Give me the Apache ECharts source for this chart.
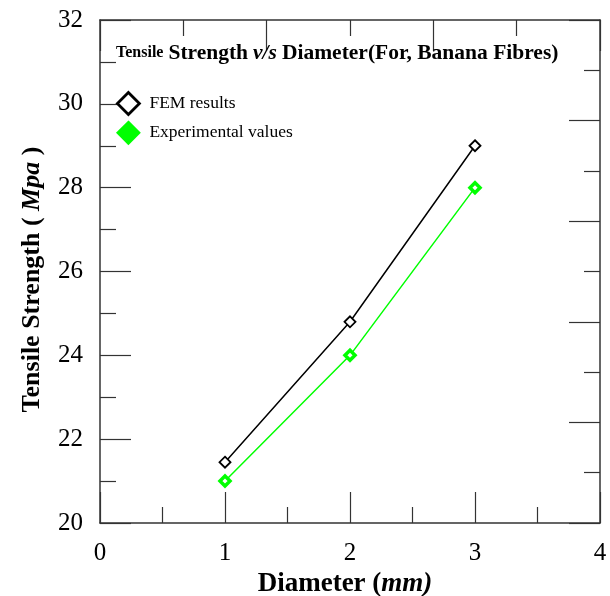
<!DOCTYPE html>
<html>
<head>
<meta charset="utf-8">
<script src="https://cdn.jsdelivr.net/npm/echarts@6/dist/echarts.min.js"></script>
<style>html,body{margin:0;padding:0;background:#fff}#c{width:610px;height:596px}</style>
</head>
<body>
<div id="c"></div>
<script>
var diameters = [1, 2, 3];
var femResults = [21.45, 24.8, 29.0];
var experimentalValues = [21.0, 24.0, 28.0];
var seriesNames = ['FEM results', 'Experimental values'];
var xTicks = [0, 1, 2, 3, 4];
var yTicks = [20, 22, 24, 26, 28, 30, 32];

var serif = '"Liberation Serif", "DejaVu Serif", serif';
var axisColor = '#333';

function pairs(xs, ys) { return xs.map(function (x, i) { return [x, ys[i]]; }); }

var chart = echarts.init(document.getElementById('c'));
chart.setOption({
  backgroundColor: '#fff',
  animation: false,
  title: {
    text: '{a|Tensile} {b|Strength} {c|v/s} {b|Diameter(For, Banana Fibres)}',
    left: 116, top: 42, padding: 0,
    textStyle: {
      rich: {
        a: { fontFamily: serif, fontWeight: 'bold', fontSize: 16, color: '#000' },
        b: { fontFamily: serif, fontWeight: 'bold', fontSize: 21.5, color: '#000' },
        c: { fontFamily: serif, fontWeight: 'bold', fontStyle: 'italic', fontSize: 21.5, color: '#000' }
      }
    }
  },
  legend: {
    orient: 'vertical', left: 116, top: 91, padding: 0,
    itemWidth: 22, itemHeight: 22, itemGap: 5,
    textStyle: { fontFamily: serif, fontSize: 17.5, color: '#000', padding: [0, 0, 0, 5] },
    data: [
      { name: seriesNames[0], icon: 'diamond', itemStyle: { color: '#fff', borderColor: '#000', borderWidth: 2.8 } },
      { name: seriesNames[1], icon: 'diamond', itemStyle: { color: '#00ff00', borderColor: '#00ff00', borderWidth: 2 } }
    ]
  },
  grid: { left: 100, right: 10, top: 20, bottom: 73, containLabel: false, outerBoundsMode: 'none' },
  xAxis: [{
    type: 'value', position: 'bottom', min: xTicks[0], max: xTicks[xTicks.length - 1], interval: 1,
    name: '{b|Diameter (}{i|mm)}', nameLocation: 'middle', nameGap: 44,
    nameTextStyle: { padding: [0, 10, 0, 0], rich: {
      b: { fontFamily: serif, fontWeight: 'bold', fontSize: 27, color: '#000' },
      i: { fontFamily: serif, fontWeight: 'bold', fontStyle: 'italic', fontSize: 27, color: '#000' } } },
    axisLine: { show: true, onZero: false, lineStyle: { color: axisColor, width: 1.5 } },
    axisTick: { show: true, inside: true, length: 31, lineStyle: { color: axisColor, width: 1.2 } },
    minorTick: { show: true, splitNumber: 2, length: 16, lineStyle: { color: axisColor, width: 1.2 } },
    axisLabel: { fontFamily: serif, fontSize: 25, color: '#000', margin: 18 },
    splitLine: { show: false }
  }, {
    type: 'value', position: 'top', min: 0, max: 6, interval: 2,
    axisLine: { show: true, onZero: false, lineStyle: { color: axisColor, width: 1.5 } },
    axisTick: { show: true, inside: true, length: 31, lineStyle: { color: axisColor, width: 1.2 } },
    minorTick: { show: true, splitNumber: 2, length: 16, lineStyle: { color: axisColor, width: 1.2 } },
    axisLabel: { show: false },
    splitLine: { show: false }
  }],
  yAxis: [{
    type: 'value', position: 'left', min: yTicks[0], max: yTicks[yTicks.length - 1], interval: 2,
    name: '{b|Tensile Strength ( }{i|Mpa}{b| )}', nameLocation: 'middle', nameGap: 55, nameRotate: 90,
    nameTextStyle: { padding: [0, 16, 0, 0], rich: {
      b: { fontFamily: serif, fontWeight: 'bold', fontSize: 26, color: '#000' },
      i: { fontFamily: serif, fontWeight: 'bold', fontStyle: 'italic', fontSize: 26, color: '#000' } } },
    axisLine: { show: true, onZero: false, lineStyle: { color: axisColor, width: 1.5 } },
    axisTick: { show: true, inside: true, length: 31, lineStyle: { color: axisColor, width: 1.2 } },
    minorTick: { show: true, splitNumber: 2, length: 16, lineStyle: { color: axisColor, width: 1.2 } },
    axisLabel: { fontFamily: serif, fontSize: 25, color: '#000', margin: 17, padding: [3, 0, 0, 0] },
    splitLine: { show: false }
  }, {
    type: 'value', position: 'right', min: 0, max: 10, interval: 2,
    axisLine: { show: true, onZero: false, lineStyle: { color: axisColor, width: 1.5 } },
    axisTick: { show: true, inside: true, length: 31, lineStyle: { color: axisColor, width: 1.2 } },
    minorTick: { show: true, splitNumber: 2, length: 16, lineStyle: { color: axisColor, width: 1.2 } },
    axisLabel: { show: false },
    splitLine: { show: false }
  }],
  series: [{
    name: seriesNames[0], type: 'line', xAxisIndex: 0, yAxisIndex: 0,
    data: pairs(diameters, femResults),
    symbol: 'diamond', symbolSize: 11,
    lineStyle: { color: '#000', width: 1.5 },
    itemStyle: { color: '#fff', borderColor: '#000', borderWidth: 1.8 },
    z: 3
  }, {
    name: seriesNames[1], type: 'line', xAxisIndex: 0, yAxisIndex: 0,
    data: pairs(diameters, experimentalValues),
    symbol: 'diamond', symbolSize: 10,
    lineStyle: { color: '#00ff00', width: 1.5 },
    itemStyle: { color: '#fff', borderColor: '#00ff00', borderWidth: 3.5 },
    z: 3
  }]
});
</script>
</body>
</html>
